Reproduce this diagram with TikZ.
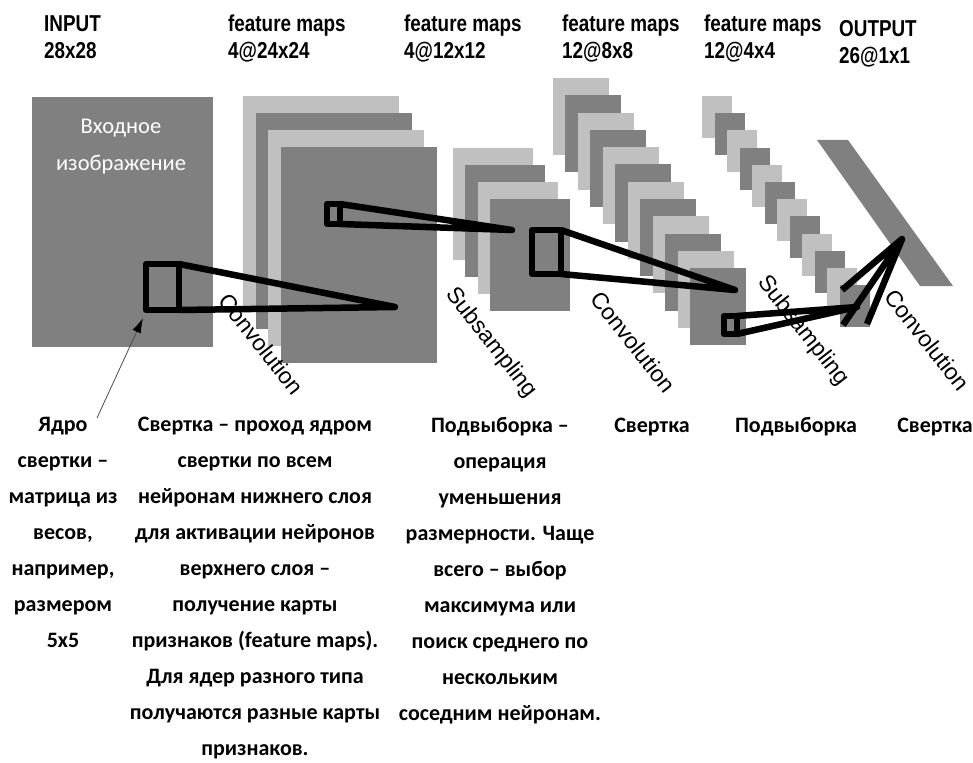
\documentclass[tikz,border=0pt]{standalone}
\usepackage{fontspec}
\usetikzlibrary{arrows.meta}
\setmainfont{Carlito}
\newfontfamily\headfont[FakeStretch=0.82]{Liberation Sans}
\newfontfamily\opfont{Liberation Sans}
\definecolor{mapA}{HTML}{C0C0C0}
\definecolor{mapB}{HTML}{808080}

\begin{document}
\begin{tikzpicture}[x=1pt,y=-1pt,
  head/.style={anchor=north west,inner sep=0,align=left,font=\headfont\bfseries\fontsize{23}{27}\selectfont},
  op/.style={rotate=-52,inner sep=0,font=\opfont\fontsize{23}{27}\selectfont},
  note/.style={anchor=north,inner sep=0,align=center,font=\bfseries\fontsize{22}{36}\selectfont,
    execute at begin node=\vphantom{б}},
  kern/.style={line width=6.5pt,line join=round}]
\useasboundingbox (0,0) rectangle (973,762);
\node[head] (in) at (44,15) {INPUT\\28x28};
\node[head] (f1) at (228,15) {feature maps\\4@24x24};
\node[head] (f2) at (404,15) {feature maps\\4@12x12};
\node[head] (f3) at (562,15) {feature maps\\12@8x8};
\node[head] (f4) at (704,15) {feature maps\\12@4x4};
\node[head] (out) at (839,20) {OUTPUT\\26@1x1};
\fill[mapB] (32,97) rectangle (213,347);
\node[white,anchor=north,inner sep=0,align=center,font=\fontsize{22.5}{37}\selectfont] (img) at (121,119) {Входное\\изображение};
\foreach \i in {0,...,3}{\ifodd\i\relax\def\c{mapB}\else\def\c{mapA}\fi
  \fill[\c] ({243+12.7*\i},{96+17*\i}) rectangle +(156,216);}
\foreach \i in {0,...,3}{\ifodd\i\relax\def\c{mapB}\else\def\c{mapA}\fi
  \fill[\c] ({453+12.3*\i},{148+17*\i}) rectangle +(80,112);}
\foreach \i in {0,...,11}{\ifodd\i\relax\def\c{mapB}\else\def\c{mapA}\fi
  \fill[\c] ({553+12.45*\i},{78+17.3*\i}) rectangle +(56,77);}
\foreach \i in {0,...,11}{\ifodd\i\relax\def\c{mapB}\else\def\c{mapA}\fi
  \fill[\c] ({702+12.5*\i},{96+17.2*\i}) rectangle +(30,42);}
\fill[mapB] (817,140) -- (848,140) -- (953,286) -- (920,286) -- cycle;
\node[op] (c1) at (261,344) {Convolution};
\node[op] (s1) at (491,343) {Subsampling};
\node[op] (c2) at (633,342) {Convolution};
\node[op] (s2) at (803,331) {Subsampling};
\node[op] (c3) at (927,340) {Convolution};
\coordinate (k1) at (395,307);
\coordinate (k2) at (512,230);
\coordinate (k3) at (735,290);
\coordinate (k4) at (857,307);
\coordinate (top) at (902,239);
\draw[kern] (146,264) rectangle (179,310);
\draw[kern] (179,264) -- (k1) -- (179,310);
\draw[kern] (327,204) rectangle (340,224);
\draw[kern] (340,204) -- (k2) -- (340,224);
\draw[kern] (532,230) rectangle (561,274);
\draw[kern] (561,230) -- (k3) -- (561,274);
\draw[kern] (724,316) rectangle (737,334);
\draw[kern] (737,316) -- (k4) -- (737,334);
\draw[kern] (842,290) -- (top) -- (843,325);
\draw[kern] (top) -- (867,324);
\node[note] (core) at (63,417) {Ядро\\свертки –\\матрица из\\весов,\\например,\\размером\\5x5};
\node[note] (conv) at (255,417) {Свертка – проход ядром\\свертки по всем\\нейронам нижнего слоя\\для активации нейронов\\верхнего слоя –\\получение карты\\признаков (feature maps).\\Для ядер разного типа\\получаются разные карты\\признаков.};
\node[note] (pool) at (500,417) {Подвыборка –\\операция\\уменьшения\\размерности. Чаще\\всего – выбор\\максимума или\\поиск среднего по\\нескольким\\соседним нейронам.};
\node[note] (conv2) at (652,417) {Свертка};
\node[note] (pool2) at (796,417) {Подвыборка};
\node[note] (conv3) at (935,417) {Свертка};
\coordinate (foot) at (97,418);
\coordinate (corner) at (143,318);
\draw[black!70,line width=0.8pt,-{Latex[length=15pt,width=9pt,black]}] (foot) -- (corner);
\end{tikzpicture}
\end{document}
